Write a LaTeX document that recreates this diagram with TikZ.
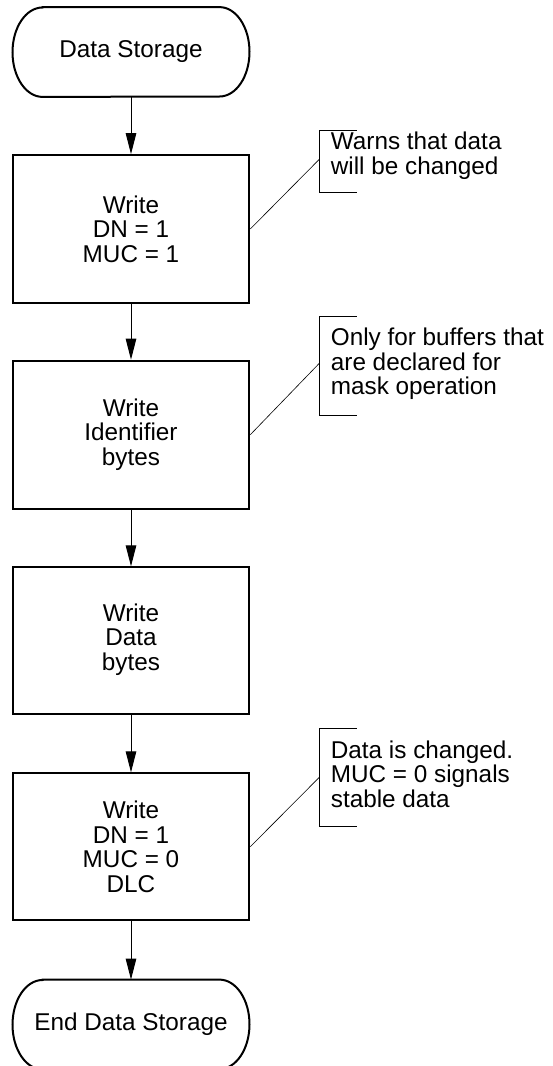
\documentclass[tikz,border=0pt]{standalone}
\usepackage{fontspec}
\setmainfont{Liberation Sans}
\usetikzlibrary{arrows.meta}
\begin{document}
\begin{tikzpicture}[x=1pt,y=-1pt,
  every node/.style={font=\fontsize{24.3}{24.5}\selectfont},
  stepbox/.style={draw,line width=2pt,minimum width=236.6pt,align=center,inner sep=0pt},
  termbox/.style={minimum width=236.6pt,minimum height=89.4pt,inner sep=0pt},
  termline/.style={line width=2pt},
  note/.style={anchor=west,align=left,inner sep=0pt},
  flow/.style={line width=1pt,-{Triangle[length=21pt,width=10.5pt]}},
  leader/.style={line width=0.6pt},
  bracket/.style={line width=0.9pt}]
\useasboundingbox (0,0) rectangle (552,1066);
% terminals and steps
\node[termbox] (start) at (131,52) {Data Storage};
\node[stepbox,minimum height=147.7pt] (b1) at (131,229) {Write\\DN = 1\\MUC = 1};
\node[stepbox,minimum height=148pt] (b2) at (131,434.7) {Write\\Identifier\\bytes};
\node[stepbox,minimum height=146.7pt] (b3) at (131,640.7) {\raisebox{5pt}{\begin{tabular}{@{}c@{}}Write\\Data\\bytes\end{tabular}}};
\node[stepbox,minimum height=146.7pt] (b4) at (131,846.7) {Write\\DN = 1\\MUC = 0\\DLC};
\node[termbox] (end) at (131,1024.5) {End Data Storage};
\foreach \t in {start,end}{
  \draw[termline] ([xshift=30pt]\t.north west) -- ([xshift=-30pt]\t.north east)
    arc[start angle=90,end angle=-90,x radius=30pt,y radius=44.7pt]
    -- ([xshift=30pt]\t.south west)
    arc[start angle=270,end angle=90,x radius=30pt,y radius=44.7pt] -- cycle;
}
% flow arrows
\draw[flow] (start.south) -- (b1.north);
\draw[flow] (b1.south) -- (b2.north);
\draw[flow] (b2.south) -- (b3.north);
\draw[flow] (b3.south) -- (b4.north);
\draw[flow] (b4.south) -- (end.north);
% annotations
\node[note] (n1) at (330.7,155.7) {Warns that data\\will be changed};
\node[note] (n2) at (330.7,364) {Only for buffers that\\are declared for\\mask operation};
\node[note] (n3) at (330.7,774.3) {Data is changed.\\MUC = 0 signals\\stable data};
\coordinate (c1) at (319.3,159.3);
\coordinate (c2) at (319.3,363.3);
\coordinate (c3) at (319.3,777.3);
\draw[bracket] (356.7,130.7) -- (319.3,130.7) -- (319.3,192.7) -- (356.7,192.7);
\draw[bracket] (356.7,316.7) -- (319.3,316.7) -- (319.3,415) -- (356.7,415);
\draw[bracket] (356.7,728.7) -- (319.3,728.7) -- (319.3,826.7) -- (356.7,826.7);
\draw[leader] (b1.east) -- (c1);
\draw[leader] (b2.east) -- (c2);
\draw[leader] (b4.east) -- (c3);
\end{tikzpicture}
\end{document}
